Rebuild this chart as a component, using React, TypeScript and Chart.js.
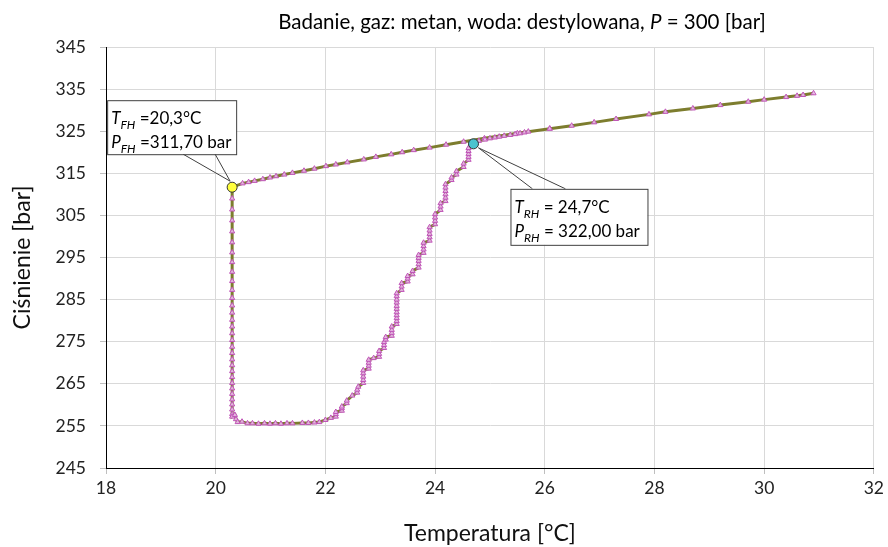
import React, { useEffect, useRef } from "react";
import { Chart, registerables } from "chart.js";
Chart.register(...registerables);

const FONT = "Lato, 'Liberation Sans', sans-serif";

// x axis / y axis
const xMin = 18, xMax = 32, xStep = 2;
const yMin = 245, yMax = 345, yStep = 10;

// Cooling along the upper branch (30.9 -> 20.5 °C)
const coolT = [30.9, 30.71, 30.6, 30.4, 30.0, 29.71, 29.2, 28.7, 28.2, 27.9, 27.3, 26.9, 26.49, 26.09, 25.5, 24.9, 24.52, 24.2, 23.9, 23.61, 23.4, 23.2, 22.92, 22.7, 22.4, 22.19, 22.01, 21.8, 21.61, 21.4, 21.25, 21.1, 20.99, 20.86, 20.71, 20.6, 20.49];
const coolP = [334.0, 333.6, 333.4, 333.1, 332.5, 332.0, 331.2, 330.4, 329.6, 329.0, 327.9, 327.1, 326.3, 325.6, 324.5, 323.3, 322.5, 321.8, 321.1, 320.5, 320.0, 319.5, 318.9, 318.3, 317.6, 317.1, 316.7, 316.1, 315.6, 315.1, 314.7, 314.3, 314.0, 313.6, 313.2, 312.9, 312.6];

// Pressure drop at hydrate formation temperature
const dropT = 20.3;
const dropP = [311.7, 309.0, 306.4, 303.8, 301.2, 298.6, 296.2, 293.9, 291.6, 289.4, 287.3, 285.4, 283.6, 281.9, 280.2, 278.6, 277.0, 275.4, 273.8, 272.3, 270.8, 269.4, 268.0, 266.6, 265.2, 263.9, 262.6, 261.3, 260.1, 258.9, 257.8, 257.2];

// Heating (dissociation) branch
const heatT = [20.35, 20.37, 20.4, 20.48, 20.58, 20.67, 20.78, 20.89, 20.99, 21.09, 21.19, 21.3, 21.4, 21.58, 21.69, 21.8, 21.89, 22.0, 22.1, 22.19, 22.19, 22.19, 22.3, 22.3, 22.3, 22.39, 22.39, 22.49, 22.58, 22.58, 22.6, 22.69, 22.69, 22.69, 22.69, 22.69, 22.79, 22.79, 22.79, 22.79, 22.88, 22.98, 22.98, 22.98, 23.07, 23.07, 23.07, 23.1, 23.1, 23.21, 23.21, 23.21, 23.21, 23.3, 23.3, 23.3, 23.3, 23.3, 23.3, 23.3, 23.3, 23.3, 23.3, 23.3, 23.39, 23.39, 23.39, 23.5, 23.5, 23.5, 23.59, 23.59, 23.7, 23.7, 23.7, 23.7, 23.7, 23.79, 23.79, 23.79, 23.79, 23.9, 23.9, 23.9, 23.9, 23.9, 24.0, 24.0, 24.0, 24.0, 24.1, 24.1, 24.1, 24.19, 24.19, 24.19, 24.19, 24.19, 24.19, 24.3, 24.3, 24.39, 24.39, 24.52, 24.52, 24.61, 24.61, 24.61, 24.61, 24.61, 24.7, 24.8, 24.91, 25.0, 25.09, 25.17, 25.26, 25.37, 25.46, 25.55, 25.63, 25.7, 26.09];
const heatP = [257.6, 256.6, 255.9, 256.0, 255.6, 255.6, 255.5, 255.6, 255.5, 255.6, 255.5, 255.6, 255.6, 255.7, 255.7, 255.8, 255.9, 256.4, 256.9, 257.2, 257.8, 258.3, 258.6, 259.2, 259.6, 260.4, 261.0, 262.2, 262.9, 263.6, 264.3, 265.2, 265.9, 266.7, 267.5, 268.2, 268.6, 269.3, 270.0, 270.7, 271.1, 271.4, 272.1, 272.8, 273.5, 274.2, 274.9, 275.5, 276.1, 276.4, 277.1, 277.8, 278.6, 279.2, 279.9, 280.6, 281.3, 282.0, 282.8, 283.5, 284.3, 285.0, 285.8, 286.5, 287.3, 288.1, 288.9, 289.3, 290.0, 290.6, 291.0, 291.8, 292.6, 293.4, 294.2, 294.9, 295.6, 296.1, 296.9, 297.7, 298.5, 299.0, 299.8, 300.6, 301.4, 302.2, 302.9, 303.7, 304.5, 305.3, 306.3, 307.1, 307.9, 308.4, 309.2, 310.0, 310.8, 311.6, 312.4, 313.4, 314.0, 314.7, 315.5, 316.5, 317.3, 318.2, 318.9, 319.6, 320.3, 321.0, 322.0, 322.7, 323.0, 323.3, 323.5, 323.7, 323.9, 324.1, 324.3, 324.5, 324.7, 324.9, 325.6];

// Characteristic points
const fhPoint = { x: 20.3, y: 311.7 };
const rhPoint = { x: 24.7, y: 322.0 };

type Part = { t: string; i?: boolean; sub?: boolean };

function drawRich(ctx: CanvasRenderingContext2D, x: number, y: number, parts: Part[], size: number) {
  let cx = x;
  for (const p of parts) {
    const fs = p.sub ? Math.round(size * 0.68) : size;
    ctx.font = `${p.i ? "italic " : ""}${fs}px ${FONT}`;
    ctx.fillText(p.t, cx, p.sub ? y + 5 : y);
    cx += ctx.measureText(p.t).width;
  }
}
function richWidth(ctx: CanvasRenderingContext2D, parts: Part[], size: number) {
  let w = 0;
  for (const p of parts) {
    const fs = p.sub ? Math.round(size * 0.68) : size;
    ctx.font = `${p.i ? "italic " : ""}${fs}px ${FONT}`;
    w += ctx.measureText(p.t).width;
  }
  return w;
}

const overlay = {
  id: "overlay",
  beforeDatasetsDraw(chart: any) {
    const ctx: CanvasRenderingContext2D = chart.ctx;
    const xs = chart.scales.x, ys = chart.scales.y;
    ctx.save();
    ctx.textBaseline = "alphabetic";
    ctx.fillStyle = "#000";
    // title
    const tparts: Part[] = [{ t: "Badanie, gaz: metan, woda: destylowana, " }, { t: "P", i: true }, { t: " = 300 [bar]" }];
    const tw = richWidth(ctx, tparts, 20.5);
    drawRich(ctx, 522 - tw / 2, 29, tparts, 20.5);

    const box = (px: number, py: number, bx: number, by: number, bw: number, bh: number, l1: number, l2: number, atTop: boolean, lines: Part[][]) => {
      ctx.strokeStyle = "#404040";
      ctx.lineWidth = 1;
      const ey = atTop ? by : by + bh;
      ctx.beginPath();
      ctx.moveTo(bx + l1, ey);
      ctx.lineTo(px, py);
      ctx.lineTo(bx + l2, ey);
      ctx.stroke();
      ctx.fillStyle = "#fff";
      ctx.fillRect(bx, by, bw, bh);
      ctx.strokeRect(bx + 0.5, by + 0.5, bw, bh);
      ctx.fillStyle = "#000";
      drawRich(ctx, bx + 4, by + 24, lines[0], 17);
      drawRich(ctx, bx + 4, by + 48, lines[1], 17);
    };
    const fx = xs.getPixelForValue(fhPoint.x), fy = ys.getPixelForValue(fhPoint.y);
    box(fx - 2, fy - 6, fx - 125, fy - 87, 129, 54, 76, 108, false, [
      [{ t: "T", i: true }, { t: "FH", i: true, sub: true }, { t: " =20,3°C" }],
      [{ t: "P", i: true }, { t: "FH", i: true, sub: true }, { t: " =311,70 bar" }],
    ]);
    const rx = xs.getPixelForValue(rhPoint.x), ry = ys.getPixelForValue(rhPoint.y);
    box(rx + 5, ry + 4, rx + 37, ry + 45, 137, 56, 22, 55, true, [
      [{ t: "T", i: true }, { t: "RH", i: true, sub: true }, { t: " = 24,7°C" }],
      [{ t: "P", i: true }, { t: "RH", i: true, sub: true }, { t: " = 322,00 bar" }],
    ]);
    ctx.restore();
  },
};

export default function App() {
  const ref = useRef<HTMLCanvasElement>(null);
  useEffect(() => {
    const main: { x: number; y: number }[] = [];
    coolT.forEach((t, i) => main.push({ x: t, y: coolP[i] }));
    dropP.forEach((p) => main.push({ x: dropT, y: p }));
    heatT.forEach((t, i) => main.push({ x: t, y: heatP[i] }));

    const chart = new Chart(ref.current!, {
      type: "scatter",
      data: {
        datasets: [
          { data: [fhPoint], pointRadius: 5, pointBackgroundColor: "#FFFF3C", pointBorderColor: "#333", pointBorderWidth: 1, showLine: false },
          { data: [rhPoint], pointRadius: 5, pointBackgroundColor: "#4BC3CF", pointBorderColor: "#333", pointBorderWidth: 1, showLine: false },
          {
            data: main,
            showLine: true,
            borderColor: "#7D7D2E",
            borderWidth: 3,
            pointStyle: "triangle",
            pointRadius: 3,
            pointBorderWidth: 1,
            pointBorderColor: "#C055B8",
            pointBackgroundColor: "rgba(235,190,235,0.9)",
          },
        ],
      },
      options: {
        responsive: false,
        animation: false,
        events: [],
        layout: { padding: { left: 0, right: 11, top: 47, bottom: 0 } },
        plugins: { legend: { display: false }, tooltip: { enabled: false }, title: { display: false } },
        scales: {
          x: {
            type: "linear",
            min: xMin,
            max: xMax,
            ticks: { stepSize: xStep, color: "#222", font: { family: FONT, size: 17.5 }, padding: 4 },
            grid: { color: "#d9d9d9", tickLength: 6, tickColor: "#bfbfbf" },
            border: { color: "#000", width: 1 },
            title: { display: true, text: "Temperatura [°C]", color: "#111", font: { family: FONT, size: 23 }, padding: { top: 0, bottom: 0 } },
            afterFit: (s: any) => { s.height = 79; },
          },
          y: {
            type: "linear",
            min: yMin,
            max: yMax,
            ticks: { stepSize: yStep, color: "#222", font: { family: FONT, size: 17.5 }, padding: 14 },
            grid: { color: "#d9d9d9", tickLength: 6, tickColor: "#bfbfbf" },
            border: { color: "#000", width: 1 },
            title: { display: true, text: "Ciśnienie [bar]", color: "#111", font: { family: FONT, size: 23 }, padding: { top: 9, bottom: 0 } },
            afterFit: (s: any) => { s.width = 106; },
          },
        },
      },
      plugins: [overlay],
    });
    return () => chart.destroy();
  }, []);
  return (
    <canvas ref={ref} width={888} height={547} style={{ position: "fixed", left: 0, top: 0, background: "#fff" }} />
  );
}
